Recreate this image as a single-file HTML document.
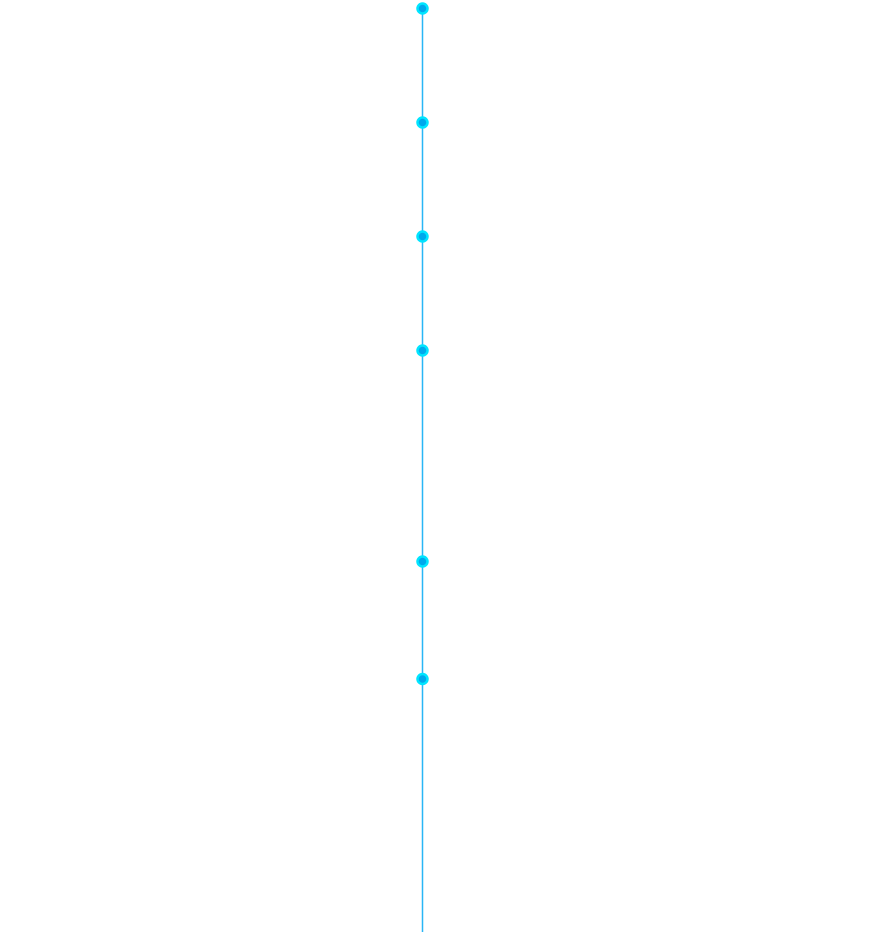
<!DOCTYPE html>
<html><head><meta charset="utf-8"><style>html,body{margin:0;padding:0;background:#fff;width:888px;height:932px;overflow:hidden}</style></head>
<body>
<svg width="888" height="932" viewBox="0 0 888 932" xmlns="http://www.w3.org/2000/svg">
<line x1="422.5" y1="8" x2="422.5" y2="932" stroke="#29b6f6" stroke-width="1.5"/>
<g fill="#00a8ec" stroke="#00e5ff" stroke-width="2.5">
<circle cx="422.5" cy="8.5" r="5"/>
<circle cx="422.5" cy="122.5" r="5"/>
<circle cx="422.5" cy="236.5" r="5"/>
<circle cx="422.5" cy="350.5" r="5"/>
<circle cx="422.5" cy="561.5" r="5"/>
<circle cx="422.5" cy="679" r="5"/>
</g>
</svg>
</body></html>
